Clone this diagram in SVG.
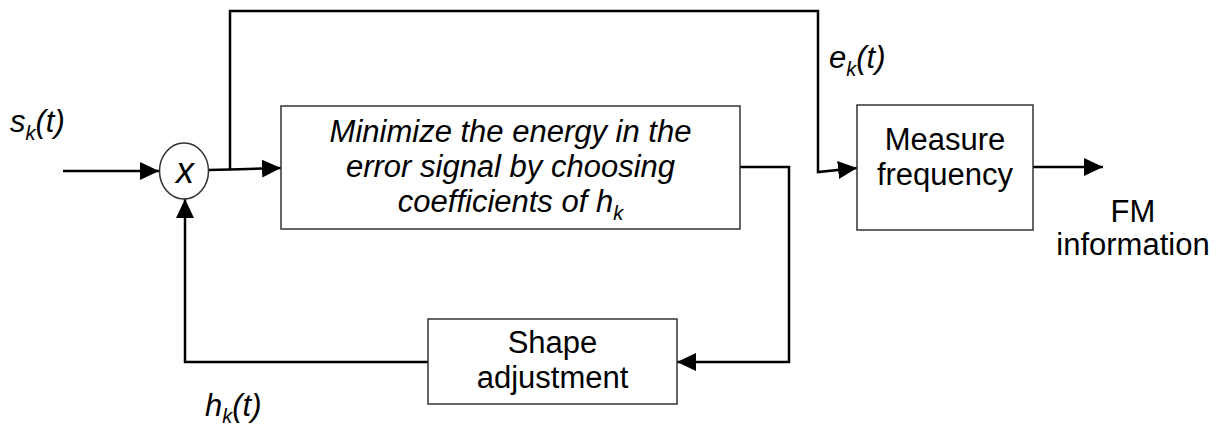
<svg xmlns="http://www.w3.org/2000/svg" width="1216" height="429" viewBox="0 0 1216 429">
<style>
.box{fill:#fff;stroke:#333;stroke-width:1.5}
.wire{fill:none;stroke:#000;stroke-width:2.5}
.t{font-family:"Liberation Sans",Arial,sans-serif;font-size:31px;fill:#000;text-anchor:middle}
.i{font-style:italic}
.lbl{font-family:"Liberation Sans",Arial,sans-serif;font-size:31px;font-style:italic;fill:#000}
</style>
<defs>
<marker id="ah" markerUnits="userSpaceOnUse" markerWidth="19" markerHeight="18" refX="19" refY="9" orient="auto">
<path d="M0,0 L19,9 L0,18 z" fill="#000"/>
</marker>
</defs>
<rect width="1216" height="429" fill="#fff"/>
<g id="connectors">
<path class="wire" d="M63,171 L159,171" marker-end="url(#ah)"/>
<path class="wire" d="M208,170 L230,169.5 L281,168" marker-end="url(#ah)"/>
<path class="wire" d="M230,169.5 L230,11 L818,11 L818,172 L857,168" marker-end="url(#ah)"/>
<path class="wire" d="M740,167 L789,167 L789,362 L677,362" marker-end="url(#ah)"/>
<path class="wire" d="M428,362 L185,362 L185,199" marker-end="url(#ah)"/>
<path class="wire" d="M1033,167 L1103,167" marker-end="url(#ah)"/>
</g>
<g id="mixer">
<ellipse cx="184" cy="171" rx="24.5" ry="28" class="box"/>
<text x="185" y="183" class="t i" style="font-size:36px">x</text>
</g>
<g id="minimize">
<rect x="281" y="106" width="459" height="123" class="box"/>
<text x="510.5" y="142" class="t i">Minimize the energy in the</text>
<text x="510.5" y="177" class="t i">error signal by choosing</text>
<text x="510.5" y="212" class="t i">coefficients of h<tspan font-size="20" dy="8">k</tspan></text>
</g>
<g id="measure">
<rect x="857" y="105" width="176" height="125" class="box"/>
<text x="945" y="150" class="t">Measure</text>
<text x="945" y="185" class="t">frequency</text>
</g>
<g id="shape">
<rect x="428" y="319" width="249" height="85" class="box"/>
<text x="552.5" y="353" class="t">Shape</text>
<text x="552.5" y="388" class="t">adjustment</text>
</g>
<g id="labels">
<text x="10" y="132" class="lbl">s<tspan font-size="20" dy="8">k</tspan><tspan dy="-8">(t)</tspan></text>
<text x="829" y="68" class="lbl">e<tspan font-size="20" dy="8">k</tspan><tspan dy="-8">(t)</tspan></text>
<text x="205" y="416" class="lbl">h<tspan font-size="20" dy="7">k</tspan><tspan dy="-7">(t)</tspan></text>
<text x="1133" y="222" class="t">FM</text>
<text x="1133" y="255" class="t">information</text>
</g>
</svg>
